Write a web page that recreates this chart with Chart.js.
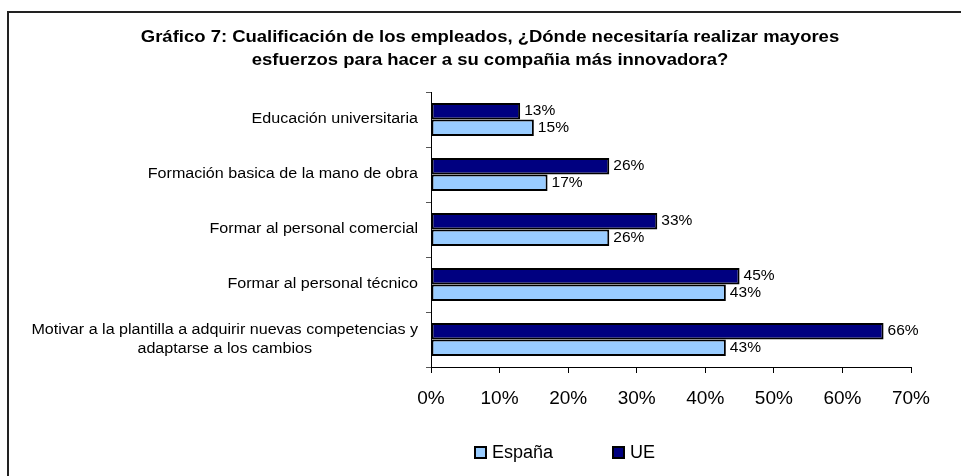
<!DOCTYPE html>
<html>
<head>
<meta charset="utf-8">
<script src="https://cdn.jsdelivr.net/npm/chart.js@4/dist/chart.umd.min.js"></script>
<style>
  body { margin: 0; background: #fff; }
  #wrap { position: relative; width: 961px; height: 476px; overflow: hidden; font-family: "Liberation Sans", Arial, sans-serif; }
  #frame { position: absolute; left: 7px; top: 11px; width: 1000px; height: 500px; border: 2px solid #222; }
  #title { position: absolute; left: 0; top: 25px; width: 980px; text-align: center; font-weight: bold; font-size: 16px; line-height: 23px; color: #000; z-index: 2; transform: scaleX(1.155); transform-origin: 490px 0; }
  #legend { position: absolute; left: 474px; top: 442px; font-size: 18px; color: #000; z-index: 2; white-space: nowrap; }
  #legend span.item { display: inline-flex; align-items: center; }
  #legend span.box { display: inline-block; width: 9px; height: 9px; border: 2px solid #000; margin-right: 5px; }
  canvas { position: absolute; left: 0; top: 0; z-index: 1; }
</style>
</head>
<body>
<div id="wrap">
  <div id="frame"></div>
  <div id="title">Gráfico 7: Cualificación de los empleados, ¿Dónde necesitaría realizar mayores<br>esfuerzos para hacer a su compañia más innovadora?</div>
  <canvas id="chart" width="961" height="476"></canvas>
  <div id="legend"></div>
</div>
<script>
// categories, top to bottom
const categories = [
    'Educación universitaria',
    'Formación basica de la mano de obra',
    'Formar al personal comercial',
    'Formar al personal técnico',
    ['Motivar a la plantilla a adquirir nuevas competencias y', 'adaptarse a los cambios']
];
const ueValues = [13, 26, 33, 45, 66];
const espanaValues = [15, 17, 26, 43, 43];
const xTicks = [0, 10, 20, 30, 40, 50, 60, 70];

const colorUE = '#000080';
const colorEspana = '#99CCFF';

// legend (España first, like the original)
const legendItems = [
    { label: 'España', color: colorEspana },
    { label: 'UE', color: colorUE }
];
document.getElementById('legend').innerHTML = legendItems.map((it, i) =>
    `<span class="item" style="margin-right:${i === 0 ? 59 : 0}px"><span class="box" style="background:${it.color}"></span>${it.label}</span>`
).join('');

// the original text is a bit wider than Arial, stretch it a little
function stretchedText(ctx, text, x, y, sx) {
    ctx.save();
    ctx.translate(x, y);
    ctx.scale(sx, 1);
    ctx.fillText(text, 0, 0);
    ctx.restore();
}

// category labels drawn right aligned as a block, lines centred in it
const categoryLabels = {
    id: 'categoryLabels',
    afterDraw(chart) {
        const ctx = chart.ctx;
        const yScale = chart.scales.y;
        const right = chart.chartArea.left - 13;
        const lineH = 19;
        const sx = 1.15;
        ctx.save();
        ctx.font = '14px "Liberation Sans", Arial, sans-serif';
        ctx.fillStyle = '#000';
        ctx.textAlign = 'center';
        ctx.textBaseline = 'middle';
        categories.forEach((lab, i) => {
            const lines = Array.isArray(lab) ? lab : [lab];
            const w = Math.max(...lines.map(l => ctx.measureText(l).width)) * sx;
            const cx = right - w / 2;
            const y0 = yScale.getPixelForValue(i) - (lines.length - 1) * lineH / 2;
            lines.forEach((l, j) => stretchedText(ctx, l, cx, y0 + j * lineH, sx));
        });
        ctx.restore();
    }
};

// percentage next to each bar
const valueLabels = {
    id: 'valueLabels',
    afterDatasetsDraw(chart) {
        const ctx = chart.ctx;
        ctx.save();
        ctx.font = '14px "Liberation Sans", Arial, sans-serif';
        ctx.fillStyle = '#000';
        ctx.textAlign = 'left';
        ctx.textBaseline = 'middle';
        chart.data.datasets.forEach((ds, di) => {
            chart.getDatasetMeta(di).data.forEach((bar, i) => {
                stretchedText(ctx, ds.data[i] + '%', bar.x + 4, bar.y, 1.11);
            });
        });
        ctx.restore();
    }
};

const ctx = document.getElementById('chart').getContext('2d');
const chart = new Chart(ctx, {
    type: 'bar',
    data: {
        labels: categories,
        datasets: [
            {
                label: 'UE',
                data: ueValues,
                backgroundColor: colorUE,
                borderColor: '#000',
                borderWidth: 2,
                borderSkipped: false
            },
            {
                label: 'España',
                data: espanaValues,
                backgroundColor: colorEspana,
                borderColor: '#000',
                borderWidth: 2,
                borderSkipped: false
            }
        ]
    },
    options: {
        indexAxis: 'y',
        responsive: false,
        devicePixelRatio: 1,
        animation: false,
        layout: { padding: { top: 92, left: 18, right: 50, bottom: 69 } },
        datasets: { bar: { categoryPercentage: 0.6, barPercentage: 1 } },
        plugins: {
            legend: { display: false },
            title: { display: false },
            tooltip: { enabled: false }
        },
        scales: {
            x: {
                min: 0,
                max: 70,
                afterBuildTicks: scale => { scale.ticks = xTicks.map(v => ({ value: v })); },
                afterFit: scale => { scale.height = 40; },
                ticks: {
                    callback: v => v + '%',
                    color: '#000',
                    padding: 14,
                    maxRotation: 0,
                    font: { family: '"Liberation Sans", Arial, sans-serif', size: 19 }
                },
                grid: { drawOnChartArea: false, tickLength: 6, color: '#000' },
                border: { color: '#000', width: 1 }
            },
            y: {
                afterFit: scale => { scale.width = 413; },
                ticks: { display: false },
                grid: { drawOnChartArea: false, tickLength: 5, color: '#555', offset: true },
                border: { color: '#000', width: 1 }
            }
        }
    },
    plugins: [categoryLabels, valueLabels]
});
</script>
</body>
</html>
